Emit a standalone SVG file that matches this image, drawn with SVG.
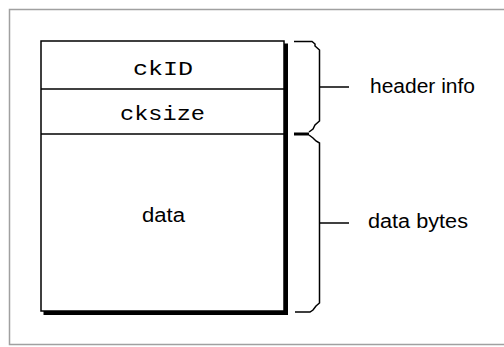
<svg xmlns="http://www.w3.org/2000/svg" width="504" height="347" viewBox="0 0 504 347">
<style>
.mono{font-family:"Liberation Mono","DejaVu Sans Mono",monospace;font-size:20px;fill:#000}
.sans{font-family:"Liberation Sans",Arial,sans-serif;font-size:20px;fill:#000}
.ln{fill:none;stroke:#000;stroke-width:1.5}
</style>
<rect x="0" y="0" width="504" height="347" fill="#fff"/>
<g id="frame">
<path d="M504,9.5 H9.5 V344.5 H504" fill="none" stroke="#a0a0a0" stroke-width="1.5"/>
</g>
<g id="chunk">
<rect x="43.5" y="43.5" width="244.5" height="271.5" fill="#000"/>
<rect x="41" y="41" width="243" height="270" fill="#fff" stroke="#000" stroke-width="1.5"/>
<g id="field-ckID">
<text class="mono" x="133" y="75" textLength="60" lengthAdjust="spacingAndGlyphs">ckID</text>
</g>
<line class="ln" x1="41" y1="89" x2="284" y2="89"/>
<g id="field-cksize">
<text class="mono" x="120" y="120" textLength="85" lengthAdjust="spacingAndGlyphs">cksize</text>
</g>
<line class="ln" x1="41" y1="134" x2="284" y2="134"/>
<g id="field-data">
<text class="sans" x="142" y="222" textLength="43" lengthAdjust="spacingAndGlyphs">data</text>
</g>
</g>
<g id="label-header">
<text class="sans" x="370" y="93" textLength="105" lengthAdjust="spacingAndGlyphs">header info</text>
</g>
<g id="label-data">
<text class="sans" x="368" y="228" textLength="100" lengthAdjust="spacingAndGlyphs">data bytes</text>
</g>
<g id="connectors">
<path class="ln" d="M294,41.5 H312 L315,44 V46 L319.5,50 V121 L315,125 L313,129 L309,132"/>
<path d="M294,132.5 H309 V135.5 H294 Z" fill="#000"/>
<path class="ln" d="M309,135 L313,138 L316,141 L319.5,143 V303 L316,306 L313,310 L310,312 H295"/>
<line class="ln" x1="319.5" y1="87" x2="349" y2="87"/>
<line class="ln" x1="319.5" y1="223" x2="349" y2="223"/>
</g>
</svg>
